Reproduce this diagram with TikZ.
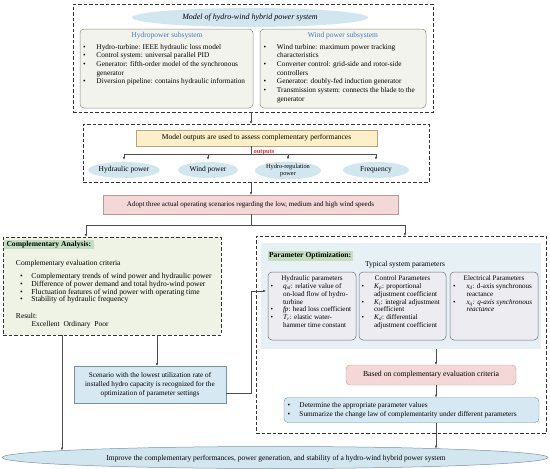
\documentclass[tikz,border=0pt]{standalone}
\usepackage{fontspec}
\setmainfont{Liberation Serif}
\usetikzlibrary{arrows.meta,shapes.geometric,calc}
\definecolor{ellblue}{HTML}{D2E6F0}
\definecolor{hdrblue}{HTML}{3C7CC0}
\definecolor{subfill}{HTML}{F3F3ED}
\definecolor{subdraw}{HTML}{8C8C84}
\definecolor{yelfill}{HTML}{FDF0C8}
\definecolor{yeldraw}{HTML}{B7A57A}
\definecolor{redfill}{HTML}{F3D8D7}
\definecolor{reddraw}{HTML}{C09594}
\definecolor{grnfill}{HTML}{EEF3E5}
\definecolor{grnhdr}{HTML}{C4DFC0}
\definecolor{bluefill}{HTML}{E6F0F5}
\definecolor{parfill}{HTML}{EDEDF1}
\definecolor{pardraw}{HTML}{707080}
\definecolor{scnfill}{HTML}{D6E8F1}
\definecolor{scndraw}{HTML}{7892A2}
\definecolor{outred}{HTML}{E8303A}
\newcommand{\vsub}[2]{\textit{#1}\textsubscript{\textit{#2}}}
\newcommand{\bul}{\textbullet}
\begin{document}
\begin{tikzpicture}[x=1pt,y=-1pt,
  plain/.style={inner sep=0pt,outer sep=0pt,anchor=north west},
  dashbox/.style={plain,draw=black!80,dash pattern=on 3.5pt off 2pt,line width=0.6pt},
  subbox/.style={plain,draw=subdraw,fill=subfill,rounded corners=4pt,line width=0.5pt},
  parbox/.style={plain,draw=pardraw,fill=parfill,rounded corners=4pt,line width=0.5pt},
  fs/.style={font=\fontsize{7.5}{8.7}\selectfont},
  fl/.style={font=\fontsize{7.3}{8.7}\selectfont},
  fp/.style={font=\fontsize{7.1}{7.8}\selectfont},
  lst/.style={inner sep=0pt,outer sep=0pt,anchor=base west},
  blob/.style={ellipse,fill=ellblue,inner sep=0pt,minimum height=16,font=\fontsize{7.5}{8}\selectfont},
  conn/.style={draw=black!70,line width=0.5pt},
  arr/.style={conn,-{Latex[length=3pt,width=2.6pt]}}]
\useasboundingbox (0,0) rectangle (550,469);

% ---------- top model box
\node[dashbox,minimum width=360,minimum height=108] (topbox) at (73,4) {};
\node[ellipse,fill=ellblue,minimum width=236,minimum height=19,inner sep=0pt,
  font=\itshape\fontsize{8}{9}\selectfont] (title) at (250,17.5) {Model of hydro-wind hybrid power system};
\node[subbox,minimum width=173,minimum height=79] (hydrobox) at (80,29) {};
\node[subbox,minimum width=166,minimum height=79] (windbox) at (260,29) {};
\node[fs,text=hdrblue] (hydrohdr) at (167,35.5) {Hydropower subsystem};
\node[fs,text=hdrblue] (windhdr) at (343,35.5) {Wind power subsystem};
\node[fl,lst] (hydrolist) at (83,49) {\begin{tabular}[t]{@{}p{13.5pt}@{}l@{}}
\bul & Hydro-turbine: IEEE hydraulic loss model\\
\bul & Control system: universal parallel PID\\
\bul & Generator: fifth-order model of the synchronous\\
 & generator\\
\bul & Diversion pipeline: contains hydraulic information
\end{tabular}};
\node[fl,lst] (windlist) at (263.5,49) {\begin{tabular}[t]{@{}p{13.5pt}@{}l@{}}
\bul & Wind turbine: maximum power tracking\\
 & characteristics\\
\bul & Converter control: grid-side and rotor-side\\
 & controllers\\
\bul & Generator: doubly-fed induction generator\\
\bul & Transmission system: connects the blade to the\\
 & generator
\end{tabular}};

% ---------- outputs box
\node[dashbox,minimum width=346,minimum height=58] (outbox) at (83,124) {};
\node[plain,draw=yeldraw,fill=yelfill,minimum width=241,minimum height=16] (yellow) at (136,130) {};
\node[fs] (yeltxt) at (256.5,138) {Model outputs are used to assess complementary performances};
\node[lst,text=outred,font=\bfseries\fontsize{6.5}{7}\selectfont] (outlbl) at (253.5,153) {outputs};
\node[blob,minimum width=65] (hp) at (124,170) {Hydraulic power};
\node[blob,minimum width=60] (wp) at (208,170) {Wind power};
\node[blob,minimum width=66,align=center,font=\fontsize{6.3}{6.8}\selectfont] (hr) at (288,170.5) {Hydro-regulation\\power};
\node[blob,minimum width=66] (fr) at (376,170) {Frequency};

% ---------- scenario banner
\node[plain,draw=reddraw,fill=redfill,minimum width=295,minimum height=19] (adopt) at (103,195) {};
\node[font=\fontsize{7}{8}\selectfont] (adopttxt) at (250.5,204.5) {Adopt three actual operating scenarios regarding the low, medium and high wind speeds};

% ---------- complementary analysis
\node[dashbox,fill=grnfill,minimum width=218,minimum height=98] (compbox) at (3,237) {};
\node[plain,fill=grnhdr,inner xsep=3pt,inner ysep=1.5pt,font=\bfseries\fontsize{7.6}{8}\selectfont] (comphdr) at (3.5,239.5) {Complementary Analysis:};
\node[fs,lst] (critlbl) at (16,265.5) {Complementary evaluation criteria};
\node[lst,font=\fontsize{7.6}{7.8}\selectfont] (critlist) at (20,278.5) {\begin{tabular}[t]{@{}p{11.5pt}@{}l@{}}
\bul & Complementary trends of wind power and hydraulic power\\
\bul & Difference of power demand and total hydro-wind power\\
\bul & Fluctuation features of wind power with operating time\\
\bul & Stability of hydraulic frequency
\end{tabular}};
\node[fs,lst] (reslbl) at (16,318.5) {Result:};
\node[fs,lst] (resvals) at (31.5,326.5) {Excellent\ \ Ordinary\ \ Poor};

% ---------- parameter optimisation
\node[dashbox,minimum width=290,minimum height=197] (parambox) at (256,236) {};
\node[plain,fill=bluefill,minimum width=280,minimum height=106] (pinner) at (261,243) {};
\node[plain,fill=grnhdr,inner xsep=1.5pt,inner ysep=1.5pt,font=\bfseries\fontsize{7.6}{8}\selectfont] (parhdr) at (267.5,251) {Parameter Optimization:};
\node[fs] (typlbl) at (405,264.5) {Typical system parameters};
\node[parbox,minimum width=88,minimum height=68] (hydr) at (268,272) {};
\node[parbox,minimum width=87,minimum height=68] (ctrl) at (359,272) {};
\node[parbox,minimum width=88,minimum height=68] (elec) at (450,272) {};
\node[fp,lst,anchor=base] (hydrhdr) at (312,280.5) {Hydraulic parameters};
\node[fp,lst,anchor=base] (ctrlhdr) at (402.5,280.5) {Control Parameters};
\node[fp,lst,anchor=base] (elechdr) at (494,280.5) {Electrical Parameters};
\node[fp,lst] (hydrlist) at (270.5,288.5) {\begin{tabular}[t]{@{}p{12.5pt}@{}l@{}}
\bul & \vsub{q}{nl}: relative value of\\
 & on-load flow of hydro-\\
 & turbine\\
\bul & \textit{fp}: head loss coefficient\\
\bul & \vsub{T}{r}: elastic water-\\
 & hammer time constant
\end{tabular}};
\node[fp,lst] (ctrllist) at (361.5,288.5) {\begin{tabular}[t]{@{}p{12.5pt}@{}l@{}}
\bul & \vsub{K}{p}: proportional\\
 & adjustment coefficient\\
\bul & \vsub{K}{i}: integral adjustment\\
 & coefficient\\
\bul & \vsub{K}{d}: differential\\
 & adjustment coefficient
\end{tabular}};
\node[fp,lst] (eleclist) at (453,288.5) {\begin{tabular}[t]{@{}p{13.5pt}@{}l@{}}
\bul & \vsub{x}{d}: d-axis synchronous\\
 & reactance\\
\bul & \textit{\vsub{x}{q}: q-axis synchronous}\\
 & \textit{reactance}
\end{tabular}};
\node[plain,draw=reddraw,fill=redfill,rounded corners=4pt,minimum width=170,minimum height=20] (based) at (346,365) {};
\node[font=\fontsize{7.7}{8}\selectfont] (basedtxt) at (431,375) {Based on complementary evaluation criteria};
\node[plain,draw=scndraw,fill=scnfill,rounded corners=4pt,minimum width=255,minimum height=25] (det) at (284,397.5) {};
\node[lst,font=\fontsize{7.3}{9}\selectfont] (detlist) at (287.5,407.5) {\begin{tabular}[t]{@{}p{12pt}@{}l@{}}
\bul & Determine the appropriate parameter values\\
\bul & Summarize the change law of complementarity under different parameters
\end{tabular}};

% ---------- scenario box
\node[plain,draw=scndraw,fill=scnfill,minimum width=152,minimum height=37] (scen) at (74,366) {};
\node[align=center,anchor=north,font=\fontsize{7.2}{9.4}\selectfont] (scentxt) at (150,368.5) {Scenario with the lowest utilization rate of\\installed hydro capacity is recognized for the\\optimization of parameter settings};

% ---------- final ellipse
\node[ellipse,draw=scndraw,fill=ellblue,minimum width=546,minimum height=22,inner sep=0pt,line width=0.5pt] (final) at (275,457.5) {};
\node[fs] (finaltxt) at (276,459) {Improve the complementary performances, power generation, and stability of a hydro-wind hybrid power system};

% ---------- connectors
\coordinate (sp) at (251,0);
\coordinate (bus) at (0,154);
\draw[arr] (topbox.south -| sp) -- (outbox.north -| sp);
\draw[conn] (yellow.south -| sp) -- (sp |- bus);
\draw[conn] (hp.north |- bus) -- (fr.north |- bus);
\foreach \e in {hp,wp,hr,fr} \draw[arr,shorten >=2pt] (\e.north |- bus) -- (\e.north);
\draw[arr] (outbox.south -| sp) -- (adopt.north -| sp);
\coordinate (cl) at (86,225);
\coordinate (cr) at (405,225);
\draw[conn] (adopt.south -| sp) -- (sp |- cl);
\draw[conn] (cl) -- (cr);
\draw[arr] (cl) -- (compbox.north -| cl);
\draw[arr] (cr) -- (parambox.north -| cr);
\coordinate (c1) at (62,0);
\coordinate (c2) at (157,0);
\coordinate (fin1) at (62,450.5);
\draw[arr] (compbox.south -| c1) -- (fin1);
\draw[arr] (compbox.south -| c2) -- (scen.north -| c2);
\coordinate (s1) at (251,393);
\coordinate (s2) at (251,291);
\coordinate (s3) at (266,291);
\draw[arr] (scen.east |- s1) -- (s1) -- (s2) -- (s3);
\coordinate (p1) at (436,0);
\coordinate (fin2) at (436,448.6);
\draw[arr] (pinner.south -| p1) -- (based.north -| p1);
\draw[arr] (based.south -| p1) -- (det.north -| p1);
\draw[arr] (det.south -| p1) -- (fin2);
\end{tikzpicture}
\end{document}
